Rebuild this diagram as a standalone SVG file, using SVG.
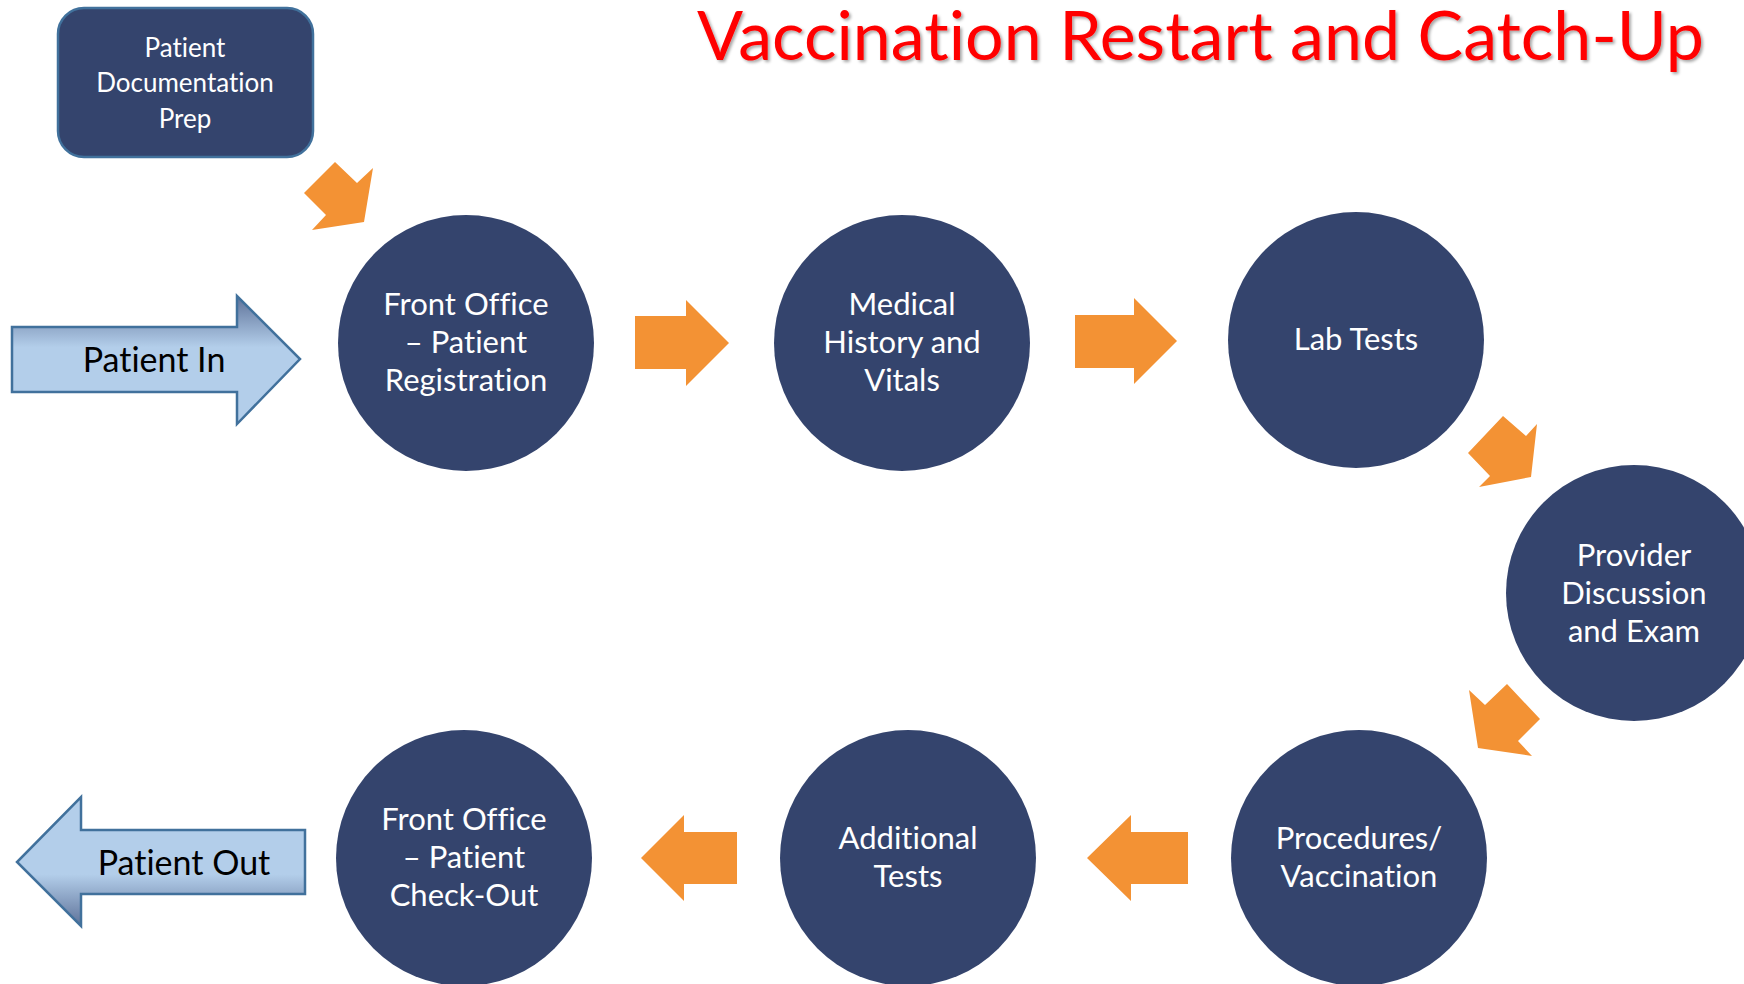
<svg xmlns="http://www.w3.org/2000/svg" width="1744" height="984" viewBox="0 0 1744 984">
<defs>
<style>
text{font-variant-ligatures:none;font-feature-settings:"liga" 0;}
.node{fill:#34446D;}
.lbl{fill:#FFFFFF;font-family:Lato,"Open Sans","DejaVu Sans",sans-serif;font-size:31px;text-anchor:middle;}
.small{font-size:26px;}
.orange{fill:#F39234;}
.blue{stroke:#41719C;stroke-width:2.5;}
.dark{fill:#000000;font-family:Lato,"Open Sans","DejaVu Sans",sans-serif;font-size:34px;text-anchor:middle;}
</style>
<linearGradient id="gIn" x1="0" y1="0" x2="0" y2="1">
<stop offset="0" stop-color="#5E7299"/>
<stop offset="0.4" stop-color="#B3CEEA"/>
<stop offset="1" stop-color="#B3CEEA"/>
</linearGradient>
<linearGradient id="gOut" x1="0" y1="0" x2="0" y2="1">
<stop offset="0" stop-color="#B3CEEA"/>
<stop offset="0.6" stop-color="#B3CEEA"/>
<stop offset="1" stop-color="#5E7299"/>
</linearGradient>
<filter id="sh" x="-5%" y="-20%" width="110%" height="140%">
<feDropShadow dx="2" dy="2" stdDeviation="1.5" flood-color="#000" flood-opacity="0.35"/>
</filter>
</defs>
<rect width="1744" height="984" fill="#FFFFFF"/>

<text x="1704" y="60" font-family="Lato,'Open Sans','DejaVu Sans',sans-serif" font-size="68" fill="#FF0000" text-anchor="end" textLength="1007" lengthAdjust="spacingAndGlyphs" filter="url(#sh)">Vaccination Restart and Catch-Up</text>

<g id="connectors">
<polygon class="orange" points="335,162 357,183 373,168 364,222 312,230 326,215 304,193"/>
<polygon class="orange" points="635,316 686,316 686,300 729,343 686,386 686,369 635,369"/>
<polygon class="orange" points="1075,315 1134,315 1134,298 1177,341 1134,384 1134,368 1075,368"/>
<polygon class="orange" points="1503,416 1526,436 1537,424 1531,477 1479,487 1490,476 1468,453"/>
<polygon class="orange" points="1507,684 1485,705 1469,690 1478,748 1532,756 1518,741 1540,719"/>
<polygon class="orange" points="1188,832 1131,832 1131,815 1087,858 1131,901 1131,884 1188,884"/>
<polygon class="orange" points="737,832 684,832 684,815 641,858 684,901 684,884 737,884"/>
</g>

<g id="patient-in">
<polygon class="blue" fill="url(#gIn)" points="12,327 237,327 237,296 300,359 237,424 237,392 12,392"/>
<text class="dark" x="154" y="372">Patient In</text>
</g>

<g id="patient-out">
<polygon class="blue" fill="url(#gOut)" points="305,830 81,830 81,797 17,862 81,926 81,894 305,894"/>
<text class="dark" x="184" y="875">Patient Out</text>
</g>

<g id="doc-prep">
<rect x="58" y="8" width="255" height="149" rx="26" class="node blue"/>
<text class="lbl small" x="185" y="57">Patient</text>
<text class="lbl small" x="185" y="92">Documentation</text>
<text class="lbl small" x="185" y="128">Prep</text>
</g>

<g id="front-office-registration">
<circle cx="466" cy="343" r="128" class="node"/>
<text class="lbl" x="466" y="315">Front Office</text>
<text class="lbl" x="466" y="353">– Patient</text>
<text class="lbl" x="466" y="391">Registration</text>
</g>

<g id="medical-history">
<circle cx="902" cy="343" r="128" class="node"/>
<text class="lbl" x="902" y="315">Medical</text>
<text class="lbl" x="902" y="353">History and</text>
<text class="lbl" x="902" y="391">Vitals</text>
</g>

<g id="lab-tests">
<circle cx="1356" cy="340" r="128" class="node"/>
<text class="lbl" x="1356" y="350">Lab Tests</text>
</g>

<g id="provider-discussion">
<circle cx="1634" cy="593" r="128" class="node"/>
<text class="lbl" x="1634" y="566">Provider</text>
<text class="lbl" x="1634" y="604">Discussion</text>
<text class="lbl" x="1634" y="642">and Exam</text>
</g>

<g id="procedures-vaccination">
<circle cx="1359" cy="858" r="128" class="node"/>
<text class="lbl" x="1359" y="849">Procedures/</text>
<text class="lbl" x="1359" y="887">Vaccination</text>
</g>

<g id="additional-tests">
<circle cx="908" cy="858" r="128" class="node"/>
<text class="lbl" x="908" y="849">Additional</text>
<text class="lbl" x="908" y="887">Tests</text>
</g>

<g id="front-office-checkout">
<circle cx="464" cy="858" r="128" class="node"/>
<text class="lbl" x="464" y="830">Front Office</text>
<text class="lbl" x="464" y="868">– Patient</text>
<text class="lbl" x="464" y="906">Check-Out</text>
</g>
</svg>
